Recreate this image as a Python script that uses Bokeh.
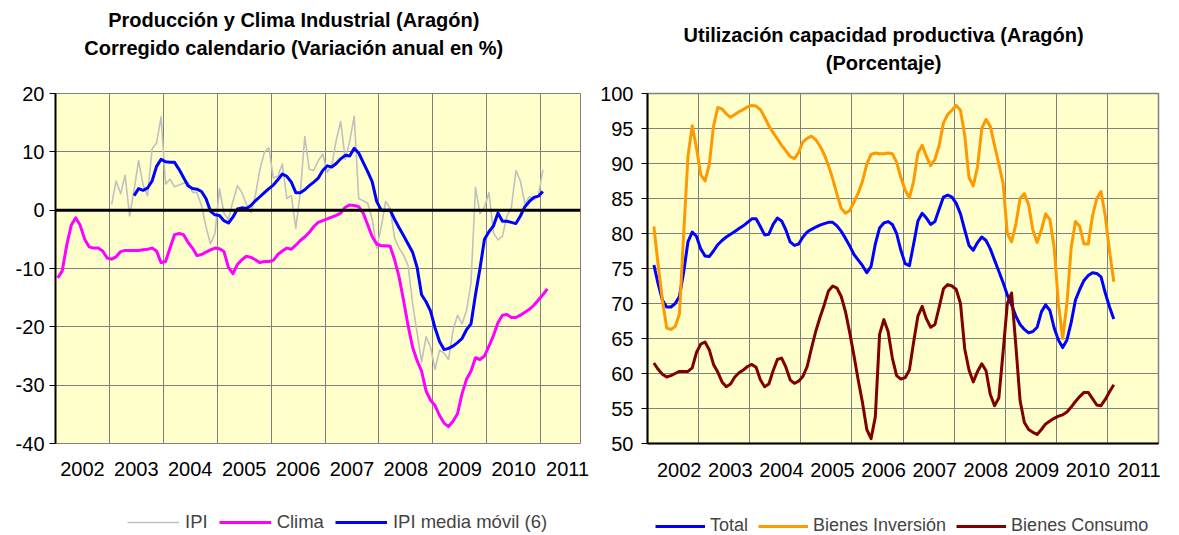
from bokeh.plotting import figure
from bokeh.models import Range1d, FixedTicker, Span, Legend, LegendItem, Label
from bokeh.layouts import row, column
from bokeh.embed import file_html
from bokeh.resources import INLINE

FONT = "Liberation Sans"

# ---------------- data: left chart (monthly, % annual change) ----------------
years = list(range(2002, 2012))

clima_start = (2002, 1)
clima = [-11.6, -10.4, -6.0, -2.6, -1.3, -2.6, -5.0, -6.3, -6.5, -6.5,
         -7.0, -8.2, -8.4, -8.0, -7.1, -6.9, -6.9, -6.9, -6.9, -6.8,
         -6.7, -6.5, -7.0, -9.0, -8.8, -6.5, -4.2, -4.0, -4.2, -5.5,
         -6.5, -7.8, -7.6, -7.2, -6.8, -6.5, -6.6, -7.1, -9.8, -10.9,
         -9.3, -8.5, -7.9, -8.1, -8.5, -9.0, -8.8, -8.8, -8.6, -7.6,
         -7.0, -6.5, -6.7, -6.0, -5.2, -4.6, -3.8, -2.8, -2.1, -1.8,
         -1.5, -1.2, -0.9, -0.5, 0.5, 0.9, 0.8, 0.6, -0.5, -2.5,
         -4.5, -5.8, -6.1, -6.1, -6.2, -8.5, -11.5, -15.5, -19.8, -23.5,
         -25.8, -27.6, -31.0, -32.6, -33.5, -35.2, -36.5, -37.1, -36.2, -34.9,
         -31.5, -29.0, -27.6, -25.3, -25.6, -25.0, -23.3, -21.5, -19.3, -18.0,
         -17.9, -18.4, -18.4, -18.0, -17.5, -17.0, -16.3, -15.4, -14.5, -13.5]

ipi_start = (2003, 1)
ipi = [1.0, 5.0, 2.8, 6.0, -1.0, 3.5, 8.5, 4.3, 2.5, 10.5,
       11.5, 16.0, 4.5, 5.3, 4.0, 4.3, 4.6, 4.8, 3.1, 3.0,
       0.8, -2.8, -5.8, -4.0, 3.7, -0.5, -1.6, 1.5, 4.2, 3.0,
       1.0, -0.4, 2.5, 7.0, 9.9, 10.7, 5.5, 5.8, 7.9, 2.0,
       2.5, -3.1, 3.0, 12.6, 7.0, 6.8, 8.5, 9.6, 6.5, 7.6,
       12.0, 15.2, 8.7, 11.8, 16.1, 2.0, 1.6, 1.2, -1.5, -6.5,
       -3.0, 1.5, 0.3, -4.8, -6.5, -7.7, -9.5, -16.0, -21.0, -26.0,
       -21.7, -23.5, -27.3, -24.0, -24.5, -25.6, -20.6, -18.0, -19.5, -17.2,
       -12.5, 3.9, -0.6, 0.5, 3.0, -3.9, -5.1, -4.5, -1.0, 0.5,
       6.8, 5.0, 1.1, 2.3, 1.8, 2.4, 6.9]

ipi_mm_start = (2003, 6)
ipi_mm = [2.5, 3.7, 3.4, 3.8, 5.0, 7.5, 8.7, 8.3, 8.2, 8.2,
          7.0, 5.6, 4.2, 3.7, 3.6, 3.2, 2.0, -0.2, -0.8, -0.9,
          -1.8, -2.2, -1.2, 0.2, 0.4, 0.3, 0.8, 1.6, 2.3, 3.0,
          3.7, 4.3, 5.2, 6.2, 5.8, 4.8, 3.0, 3.0, 3.5, 4.2,
          4.8, 5.5, 6.8, 7.6, 7.4, 8.0, 8.8, 9.4, 9.3, 10.6,
          9.8, 8.2, 6.6, 4.9, 1.5, 0.0, 0.0, 0.0, -1.6, -3.0,
          -4.4, -5.8, -7.2, -9.8, -14.5, -15.7, -17.3, -20.2, -22.5, -23.9,
          -23.7, -23.3, -22.7, -22.0, -20.5, -19.5, -14.5, -10.0, -5.0, -3.7,
          -2.7, -0.5, -1.9, -1.9, -2.1, -2.3, -1.0, 0.6, 1.5, 2.2,
          2.4, 3.2]

# ---------------- data: right chart (capacity utilisation, %) ----------------
cap_start = (2002, 2)
total = [75.5, 72.8, 70.5, 69.5, 69.5, 70.0, 71.0, 74.5, 78.8, 80.2,
         79.6, 77.8, 76.8, 76.7, 77.5, 78.4, 79.0, 79.5, 79.9, 80.3,
         80.7, 81.1, 81.6, 82.1, 82.1, 81.0, 79.8, 79.9, 81.3, 82.2,
         81.8, 80.5, 78.8, 78.3, 78.5, 79.5, 80.2, 80.6, 80.9, 81.2,
         81.4, 81.6, 81.6, 81.1, 80.3, 79.3, 78.2, 77.0, 76.2, 75.4,
         74.4, 75.3, 78.5, 80.8, 81.5, 81.7, 81.3, 80.0, 77.6, 75.7,
         75.4, 78.5, 81.8, 82.9, 82.2, 81.3, 81.7, 83.5, 85.2, 85.5,
         85.2, 84.3, 82.8, 80.5, 78.3, 77.6, 78.7, 79.5, 79.0, 77.8,
         76.2, 74.6, 73.0, 71.2, 69.8, 68.2, 67.0, 66.3, 65.8, 66.0,
         66.6, 68.8, 69.8, 69.0, 66.5, 64.8, 63.7, 64.8, 67.3, 70.5,
         72.0, 73.3, 74.0, 74.4, 74.3, 73.8, 71.5, 69.5, 67.8]

inversion = [81.0, 75.5, 70.5, 66.5, 66.3, 66.7, 68.5, 80.0, 91.0, 95.4,
             92.2, 88.4, 87.5, 89.8, 95.3, 98.0, 97.8, 97.1, 96.6, 97.0,
             97.4, 97.7, 98.1, 98.3, 98.2, 97.7, 96.6, 95.4, 94.4, 93.5,
             92.6, 91.8, 91.0, 90.7, 91.6, 93.1, 93.6, 93.9, 93.4, 92.5,
             91.3, 89.7, 87.8, 85.6, 83.6, 82.9, 83.3, 84.5, 85.8, 87.5,
             89.9, 91.3, 91.5, 91.4, 91.4, 91.5, 91.4, 90.2, 88.0, 86.2,
             85.1, 87.5, 91.5, 92.6, 91.0, 89.7, 90.6, 92.6, 95.8, 97.0,
             97.6, 98.3, 97.6, 94.0, 88.0, 86.8, 89.5, 95.0, 96.3, 95.3,
             92.6, 89.9, 87.2, 80.0, 78.8, 81.3, 85.0, 85.7, 84.1, 80.5,
             78.7, 80.5, 82.8, 82.0, 78.0, 70.0, 65.0, 70.0, 78.0, 81.7,
             81.0, 78.5, 78.5, 82.5, 85.0, 86.0, 82.5, 77.5, 73.1]

consumo = [61.5, 60.6, 59.9, 59.5, 59.7, 60.0, 60.3, 60.3, 60.3, 60.8,
           63.0, 64.2, 64.5, 63.4, 61.3, 60.2, 58.8, 58.1, 58.5, 59.5,
           60.1, 60.5, 61.0, 61.3, 60.9, 59.1, 58.1, 58.5, 60.4, 62.0,
           62.2, 60.9, 59.1, 58.6, 58.9, 59.6, 61.0, 63.6, 66.0, 68.0,
           69.8, 71.8, 72.5, 72.2, 71.0, 68.8, 65.8, 62.5, 59.0, 55.8,
           52.0, 50.7, 53.8, 65.6, 67.7, 66.0, 62.2, 59.7, 59.2, 59.4,
           60.5, 64.5, 68.2, 69.6, 67.8, 66.6, 67.0, 69.5, 72.1, 72.7,
           72.5, 72.0, 70.0, 63.5, 60.5, 58.8, 60.3, 61.4, 60.4, 57.0,
           55.4, 56.5, 63.0, 70.0, 71.5, 64.0, 56.1, 53.0, 52.0, 51.6,
           51.3, 52.0, 52.8, 53.2, 53.6, 53.9, 54.1, 54.5, 55.2, 56.0,
           56.7, 57.3, 57.3, 56.4, 55.5, 55.4, 56.3, 57.4, 58.4]

title_left = ["Producción y Clima Industrial (Aragón)",
              "Corregido calendario (Variación anual en %)"]
title_right = ["Utilización capacidad productiva (Aragón)", "(Porcentaje)"]
labels_left = ["IPI", "Clima", "IPI media móvil (6)"]
labels_right = ["Total", "Bienes Inversión", "Bienes Consumo"]
colors_left = ["#C0C0C0", "#FF00FF", "#0000FF"]
widths_left = [1.6, 3, 3]
colors_right = ["#0000FF", "#FF9900", "#800000"]

# geometry (pixels)
W1, W2 = 590, 582
TOP_H, MAIN_H, LEG_H = 76, 412, 46
L1_BL, L1_BR = 55, 10
L2_BL, L2_BR = 57, 14
X1_RANGE = (2002, 2011.74)
X2_RANGE = (2002, 2012)

series_left = [(ipi_start, ipi), (clima_start, clima), (ipi_mm_start, ipi_mm)]
series_right = [(cap_start, total), (cap_start, inversion), (cap_start, consumo)]


def month_x(start, n):
    y0, m0 = start
    return [y0 + (m0 - 1 + k + 0.5) / 12.0 for k in range(n)]


def blank_fig(width, height, xr, yr, bl, br):
    f = figure(width=width, height=height, x_range=Range1d(*xr), y_range=Range1d(*yr),
               output_backend="svg", toolbar_location=None,
               x_axis_location=None, y_axis_location=None,
               min_border_left=bl, min_border_right=br, min_border_top=0, min_border_bottom=0)
    f.grid.grid_line_color = None
    f.outline_line_color = None
    f.background_fill_color = "white"
    f.border_fill_color = "white"
    return f


def title_fig(width, xr, bl, br, lines, xc, ys):
    f = blank_fig(width, TOP_H, xr, (TOP_H, 0), bl, br)
    for t, y in zip(lines, ys):
        f.add_layout(Label(x=xc, y=y, text=t, text_align="center", text_baseline="middle",
                           text_font=FONT, text_font_style="bold", text_font_size="20px",
                           text_color="black"))
    return f


def legend_fig(width, xr, bl, br, labels, series, colors, widths, loc, size, gw, standoff,
               spacing):
    # the legend strip re-uses each series (kept outside its visible y range)
    f = blank_fig(width, LEG_H, xr, (1000, 1001), bl, br)
    items = []
    for lab, (st, vals), c, w in zip(labels, series, colors, widths):
        r = f.line(month_x(st, len(vals)), vals, line_color=c, line_width=w)
        items.append(LegendItem(label=lab, renderers=[r]))
    leg = Legend(items=items, location=loc, orientation="horizontal")
    leg.label_text_font = FONT
    leg.label_text_font_size = size
    leg.glyph_width = gw
    leg.glyph_height = 20
    leg.label_standoff = standoff
    leg.spacing = spacing
    leg.padding = 0
    leg.margin = 0
    leg.border_line_color = None
    leg.background_fill_alpha = 0
    f.add_layout(leg)
    return f


def style_main(p, yticks, xtick_pos, standoff):
    p.background_fill_color = "#FFFFCC"
    p.border_fill_color = "white"
    p.xgrid.ticker = FixedTicker(ticks=years[1:] + [2012])
    p.ygrid.ticker = FixedTicker(ticks=yticks)
    for g in (p.xgrid, p.ygrid):
        g.grid_line_color = "#808080"
        g.grid_line_width = 1
    p.yaxis.ticker = FixedTicker(ticks=yticks)
    p.yaxis.major_label_overrides = {t: str(t) for t in yticks}
    p.yaxis.axis_line_color = "black"
    p.yaxis.axis_line_width = 2
    p.yaxis.major_tick_out = 6
    p.yaxis.major_tick_in = 0
    p.yaxis.major_tick_line_color = "black"
    p.yaxis.minor_tick_line_color = None
    p.yaxis.major_label_text_font = FONT
    p.yaxis.major_label_text_font_size = "20px"
    p.yaxis.major_label_text_color = "black"
    p.yaxis.major_label_standoff = 5
    p.xaxis.ticker = FixedTicker(ticks=xtick_pos)
    p.xaxis.major_label_overrides = {t: str(y) for t, y in zip(xtick_pos, years)}
    p.xaxis.major_tick_out = 0
    p.xaxis.major_tick_in = 0
    p.xaxis.major_tick_line_color = None
    p.xaxis.minor_tick_line_color = None
    p.xaxis.major_label_text_font = FONT
    p.xaxis.major_label_text_font_size = "20px"
    p.xaxis.major_label_text_color = "black"
    p.xaxis.major_label_standoff = standoff


# ---------------- left chart ----------------
p1 = figure(width=W1, height=MAIN_H, x_range=Range1d(*X1_RANGE), y_range=Range1d(-40, 20),
            output_backend="svg", toolbar_location=None,
            min_border_left=L1_BL, min_border_right=L1_BR, min_border_top=17, min_border_bottom=45)
p1.outline_line_color = "#808080"
style_main(p1, list(range(-40, 21, 10)), [y + 0.5 for y in years], 18)
p1.xaxis.axis_line_color = None

for (st, vals), c, w in zip(series_left, colors_left, widths_left):
    p1.line(month_x(st, len(vals)), vals, line_color=c, line_width=w, line_join="round")
p1.add_layout(Span(location=0, dimension="width", line_color="black", line_width=3))

t1 = title_fig(W1, X1_RANGE, L1_BL, L1_BR, title_left, 2006.42, [19, 47])
l1 = legend_fig(W1, X1_RANGE, L1_BL, L1_BR, labels_left, series_left, colors_left, widths_left,
                (72, 1), "18.5px", 52, 6, 11)

# ---------------- right chart ----------------
p2 = figure(width=W2, height=MAIN_H, x_range=Range1d(*X2_RANGE), y_range=Range1d(50, 100),
            output_backend="svg", toolbar_location=None,
            min_border_left=L2_BL, min_border_right=L2_BR, min_border_top=17, min_border_bottom=45)
p2.outline_line_color = "#808080"
p2.outline_line_width = 1.5
style_main(p2, list(range(50, 101, 5)), [round(y + 0.62, 2) for y in years], 19)
p2.xaxis.axis_line_color = "black"
p2.xaxis.axis_line_width = 2
p2.yaxis.major_label_standoff = 8

for (st, vals), c in zip(series_right, colors_right):
    p2.line(month_x(st, len(vals)), vals, line_color=c, line_width=3, line_join="round")

t2 = title_fig(W2, X2_RANGE, L2_BL, L2_BR, title_right, 2006.62, [34, 62])
l2 = legend_fig(W2, X2_RANGE, L2_BL, L2_BR, labels_right, series_right, colors_right,
                [3, 3, 3], (8, -2), "18px", 50, 5, 10)

layout = row(column(t1, p1, l1), column(t2, p2, l2))
open("out.html", "w").write(file_html(layout, INLINE))
